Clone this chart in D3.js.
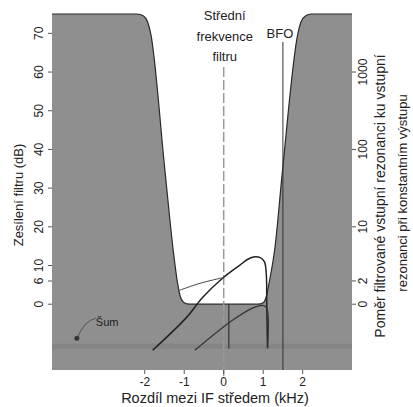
<!DOCTYPE html>
<html>
<head>
<meta charset="utf-8">
<script src="https://cdn.jsdelivr.net/npm/d3@7"></script>
<style>
  body { margin: 0; background: #fff; }
  text { font-family: "Liberation Sans", Arial, sans-serif; fill: #222; }
</style>
</head>
<body>
<svg id="chart"></svg>
<script>
// Rozměry
const width = 413, height = 407;
const margin = { top: 14, right: 61, bottom: 37, left: 52 };

// Propustné pásmo filtru: frekvence (kHz) a útlum (dB)
const filterFreq  = [-4.35, -2.2, -2.03, -1.93, -1.85, -1.49, -1.28, -1.17, -1.1, -1.0, -0.86, 0.86, 1.0, 1.08, 1.15, 1.29, 1.49, 1.88, 1.96, 2.07, 2.22, 3.25];
const filterAtten = [75, 75, 74.5, 73, 70, 34.6, 14, 5.5, 2, 0.4, 0, 0, 0.4, 2, 5.5, 14, 34.6, 70, 73, 74.5, 75, 75];

// Křivky signálů [kHz, dB]
const curveA = [[-1.8, -11.9], [-0.94, -3.4], [-0.53, 1.8], [-0.03, 6.7], [0.41, 10.1], [0.66, 11.9], [0.91, 12.1], [1.03, 11], [1.08, 7.5], [1.09, 0.5], [1.11, -11.4]];
const curveB = [[-0.73, -11.9], [0.23, -4.1], [0.73, -1.0], [0.99, -0.3], [1.09, -1], [1.11, -11.4]];
const curveC = [[-1.12, 3.6], [-0.6, 5.4], [-0.05, 6.8]];
const curveD = [[0.13, 0], [0.13, -11.5]];

// Šum
const noiseLevel = -11;
const noiseDot = [-3.72, -8.8];

// Osy
const xTicks = [-2, -1, 0, 1, 2];
const yTicks = [0, 6, 10, 20, 30, 40, 50, 60, 70];
const rTicks = [1, 2, 10, 100, 1000];
const rLabels = ["0", "2", "10", "100", "1000"];
const bfoFreq = 1.5;

const svg = d3.select('#chart')
  .attr('width', width)
  .attr('height', height);

const x = d3.scaleLinear().domain([-4.35, 3.25]).range([margin.left, width - margin.right]);
const y = d3.scaleLinear().domain([-17, 75]).range([height - margin.bottom, margin.top]);
// pravá osa: poměr amplitud, 20·log10
const yR = d3.scaleLog()
  .domain([Math.pow(10, -17 / 20), Math.pow(10, 75 / 20)])
  .range([height - margin.bottom, margin.top]);

const x0 = margin.left, x1 = width - margin.right;
const yTop = margin.top, yBot = height - margin.bottom;

// Šedé pozadí (útlum)
svg.append('rect')
  .attr('x', x0).attr('y', yTop)
  .attr('width', x1 - x0).attr('height', yBot - yTop)
  .attr('fill', '#8f8f8f');

// pásek šumu
svg.append('rect')
  .attr('x', x0).attr('y', y(noiseLevel) - 3)
  .attr('width', x1 - x0).attr('height', 5)
  .attr('fill', '#858585');

// Bílé propustné pásmo
const pts = filterFreq.map((f, i) => [f, filterAtten[i]]);
svg.append('path')
  .datum(pts)
  .attr('fill', '#fff')
  .attr('d', d3.area()
    .x(d => x(d[0]))
    .y0(y(75))
    .y1(d => y(d[1]))
    .curve(d3.curveMonotoneX));

svg.append('path')
  .datum(pts)
  .attr('fill', 'none')
  .attr('stroke', '#2a2a2a')
  .attr('stroke-width', 1.2)
  .attr('d', d3.line()
    .x(d => x(d[0]))
    .y(d => y(d[1]))
    .curve(d3.curveMonotoneX));

// Střední frekvence
svg.append('line')
  .attr('x1', x(0)).attr('x2', x(0))
  .attr('y1', 67).attr('y2', yBot + 8)
  .attr('stroke', '#9a9a9a')
  .attr('stroke-width', 1.5)
  .attr('stroke-dasharray', '10,3');

// BFO
svg.append('line')
  .attr('x1', x(bfoFreq)).attr('x2', x(bfoFreq))
  .attr('y1', 42).attr('y2', yBot)
  .attr('stroke', '#333')
  .attr('stroke-width', 1);

// Křivky
const line = d3.line()
  .x(d => x(d[0]))
  .y(d => y(d[1]))
  .curve(d3.curveCatmullRom.alpha(0.5));

svg.append('path').datum(curveA)
  .attr('fill', 'none').attr('stroke', '#222').attr('stroke-width', 1.5)
  .attr('d', line);
svg.append('path').datum(curveB)
  .attr('fill', 'none').attr('stroke', '#333').attr('stroke-width', 1.2)
  .attr('d', line);
svg.append('path').datum(curveC)
  .attr('fill', 'none').attr('stroke', '#444').attr('stroke-width', 1)
  .attr('d', line);
svg.append('path').datum(curveD)
  .attr('fill', 'none').attr('stroke', '#333').attr('stroke-width', 1.2)
  .attr('d', line);

// Šum – popisek
svg.append('circle')
  .attr('cx', x(noiseDot[0])).attr('cy', y(noiseDot[1]))
  .attr('r', 2.5).attr('fill', '#333');
svg.append('path')
  .attr('d', `M${x(noiseDot[0])},${y(noiseDot[1])} Q${x(noiseDot[0]) + 8},${y(noiseDot[1]) - 18} ${x(noiseDot[0]) + 19},${y(noiseDot[1]) - 20}`)
  .attr('fill', 'none').attr('stroke', '#444').attr('stroke-width', 0.8);
svg.append('text')
  .attr('x', x(noiseDot[0]) + 19).attr('y', y(noiseDot[1]) - 12)
  .attr('font-size', 11)
  .text('Šum');

// Levá osa
const gL = svg.append('g');
yTicks.forEach(t => {
  gL.append('line')
    .attr('x1', x0 - 4).attr('x2', x0)
    .attr('y1', y(t)).attr('y2', y(t))
    .attr('stroke', '#555');
  gL.append('text')
    .attr('transform', `translate(${x0 - 9},${y(t)}) rotate(-90)`)
    .attr('text-anchor', 'middle')
    .attr('font-size', 12)
    .text(t);
});
svg.append('text')
  .attr('transform', `translate(23,${(yTop + yBot) / 2 + 3}) rotate(-90)`)
  .attr('text-anchor', 'middle')
  .attr('font-size', 13)
  .text('Zesílení filtru (dB)');

// Pravá osa
const gR = svg.append('g');
rTicks.forEach((t, i) => {
  gR.append('line')
    .attr('x1', x1).attr('x2', x1 + 4)
    .attr('y1', yR(t)).attr('y2', yR(t))
    .attr('stroke', '#555');
  gR.append('text')
    .attr('transform', `translate(${x1 + 15},${yR(t)}) rotate(-90)`)
    .attr('text-anchor', 'middle')
    .attr('font-size', 12)
    .text(rLabels[i]);
});
svg.append('text')
  .attr('transform', `translate(385,${(yTop + yBot) / 2 + 4}) rotate(-90)`)
  .attr('text-anchor', 'middle')
  .attr('font-size', 14)
  .text('Poměr filtrované vstupní rezonanci ku vstupní');
svg.append('text')
  .attr('transform', `translate(407,${(yTop + yBot) / 2 + 1}) rotate(-90)`)
  .attr('text-anchor', 'middle')
  .attr('font-size', 13)
  .text('rezonanci při konstantním výstupu');

// Dolní osa
const gB = svg.append('g');
xTicks.forEach(t => {
  gB.append('line')
    .attr('x1', x(t)).attr('x2', x(t))
    .attr('y1', yBot).attr('y2', yBot + 4)
    .attr('stroke', '#555');
  gB.append('text')
    .attr('x', x(t)).attr('y', yBot + 16)
    .attr('text-anchor', 'middle')
    .attr('font-size', 12)
    .text(t);
});
svg.append('text')
  .attr('x', 215).attr('y', height - 4)
  .attr('text-anchor', 'middle')
  .attr('font-size', 14.5)
  .text('Rozdíl mezi IF středem (kHz)');

// Popisky nahoře
const center = ['Střední', 'frekvence', 'filtru'];
center.forEach((s, i) => {
  svg.append('text')
    .attr('x', x(0) + 1).attr('y', 20 + i * 20.5)
    .attr('text-anchor', 'middle')
    .attr('font-size', 13)
    .text(s);
});
svg.append('text')
  .attr('x', x(bfoFreq) - 3).attr('y', 38)
  .attr('text-anchor', 'middle')
  .attr('font-size', 13)
  .text('BFO');
</script>
</body>
</html>
